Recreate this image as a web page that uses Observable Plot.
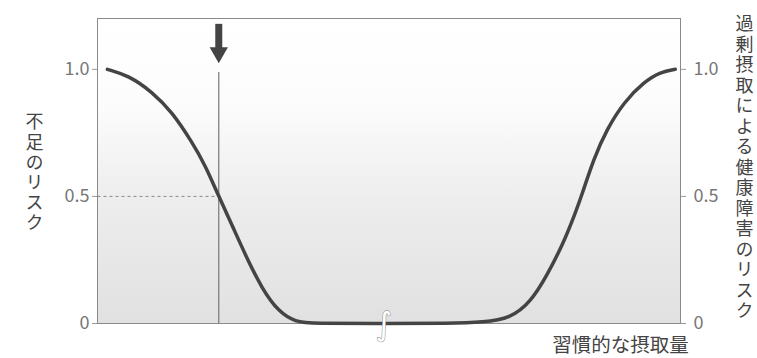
<!DOCTYPE html>
<html><head><meta charset="utf-8">
<script src="https://cdn.jsdelivr.net/npm/d3@7"></script>
<script src="https://cdn.jsdelivr.net/npm/@observablehq/plot@0.6"></script>
<style>
html,body{margin:0;padding:0;background:#fff;}
#chart{width:757px;height:358px;}
</style>
</head><body><div id="chart"></div>
<script>
// habitual intake (relative units 0–100) and risk (0–1)
const intake = [1.7, 5.3, 9.4, 12.8, 16.2, 18.5, 20.8, 23.1, 25.4, 28.2, 31.1, 34.0, 36.8, 49.1, 60.5, 66.2, 70.8, 74.3, 77.1, 80.0, 82.0, 83.0, 85.1, 87.4, 90.3, 93.7, 96.6, 99.1];
const risk   = [1.0, 0.976, 0.911, 0.832, 0.714, 0.622, 0.5, 0.386, 0.268, 0.137, 0.045, 0.006, 0, 0, 0, 0.005, 0.02, 0.084, 0.189, 0.32, 0.438, 0.5, 0.648, 0.766, 0.871, 0.95, 0.99, 1.0];
const yTicks = [0, 0.5, 1.0];
const yTickLabels = ["0", "0.5", "1.0"];
const markerIntake = 20.8;   // intake where deficiency risk = 0.5
const markerRisk = 0.5;
const breakIntake = 49.1;
const leftLabel = "不足のリスク";
const rightLabel = "過剰摂取による健康障害のリスク";
const xLabel = "習慣的な摂取量";

const curve = intake.map((x, i) => ({x, y: risk[i]}));
const jp = "'Noto Sans CJK JP', 'Noto Sans', sans-serif";

const plot = Plot.plot({
  width: 757,
  height: 358,
  marginLeft: 97,
  marginRight: 77,
  marginTop: 18,
  marginBottom: 35,
  style: {fontFamily: jp, background: "transparent", overflow: "visible"},
  x: {domain: [0, 100], axis: null},
  y: {domain: [0, 1.2]},
  marks: [
    Plot.frame({fill: "url(#bgGrad)", stroke: "#8a8a8a", strokeWidth: 1}),
    Plot.axisY(yTicks, {anchor: "left", tickFormat: (d, i) => yTickLabels[i], fontSize: 18, fill: "#777", stroke: "#999", tickSize: 5, tickPadding: 3, label: null}),
    Plot.axisY(yTicks, {anchor: "right", tickFormat: (d, i) => yTickLabels[i], fontSize: 18, fill: "#777", stroke: "#999", tickSize: 5, tickPadding: 8, label: null}),
    // dashed guide at 0.5
    Plot.link([{x1: 0, x2: markerIntake, y: markerRisk}], {x1: "x1", x2: "x2", y1: "y", y2: "y", stroke: "#888", strokeWidth: 1, strokeDasharray: "3,3"}),
    // vertical marker line
    Plot.ruleX([markerIntake], {y1: 0, y2: 0.988, stroke: "#777", strokeWidth: 1.2}),
    // arrow above marker
    Plot.ruleX([markerIntake], {y1: 1.177, y2: 1.075, stroke: "#444", strokeWidth: 7}),
    Plot.dot([markerIntake], {x: d => d, y: 1.066, symbol: "triangle", r: 6.8, rotate: 180, fill: "#444", stroke: "none"}),
    // risk curve
    Plot.line(curve, {x: "x", y: "y", curve: "basis", stroke: "#444", strokeWidth: 3.5}),
    // axis break symbol
    Plot.text([breakIntake], {x: d => d, y: 0, text: () => "∫", fontFamily: "DejaVu Sans", fontSize: 32, fill: "white", stroke: "#777", strokeWidth: 0.9, dy: 1, lineAnchor: "middle"}),
    // labels
    Plot.text([leftLabel], {text: d => d, frameAnchor: "left", dx: -63, y: 0.614, fontSize: 18, fill: "#444", textAnchor: "middle", lineAnchor: "middle"}),
    Plot.text([rightLabel], {text: d => d, frameAnchor: "right", dx: 64, y: 0.634, fontSize: 18, fill: "#444", textAnchor: "middle", lineAnchor: "middle"}),
    Plot.text([xLabel], {text: d => d, frameAnchor: "bottom-right", dx: -60, dy: 22, fontSize: 19.5, fill: "#444", textAnchor: "middle", lineAnchor: "middle"})
  ]
});

// vertical writing for the two side labels
d3.select(plot).selectAll("text").each(function() {
  const t = this.textContent;
  if (t === leftLabel || t === rightLabel) {
    const s = d3.select(this);
    s.attr("writing-mode", "vertical-rl")
     .style("text-orientation", "upright")
     .style("letter-spacing", t === leftLabel ? "2.2px" : "2.5px")
     .attr("dy", null)
     .attr("dominant-baseline", "central");
  }
});

const defs = d3.select(plot).insert("defs", ":first-child");
const g = defs.append("linearGradient").attr("id", "bgGrad").attr("x1", 0).attr("y1", 0).attr("x2", 0).attr("y2", 1);
g.append("stop").attr("offset", "0%").attr("stop-color", "#ffffff");
g.append("stop").attr("offset", "28%").attr("stop-color", "#fcfcfc");
g.append("stop").attr("offset", "60%").attr("stop-color", "#ededed");
g.append("stop").attr("offset", "100%").attr("stop-color", "#e1e1e1");

document.getElementById("chart").appendChild(plot);
</script>
</body></html>
